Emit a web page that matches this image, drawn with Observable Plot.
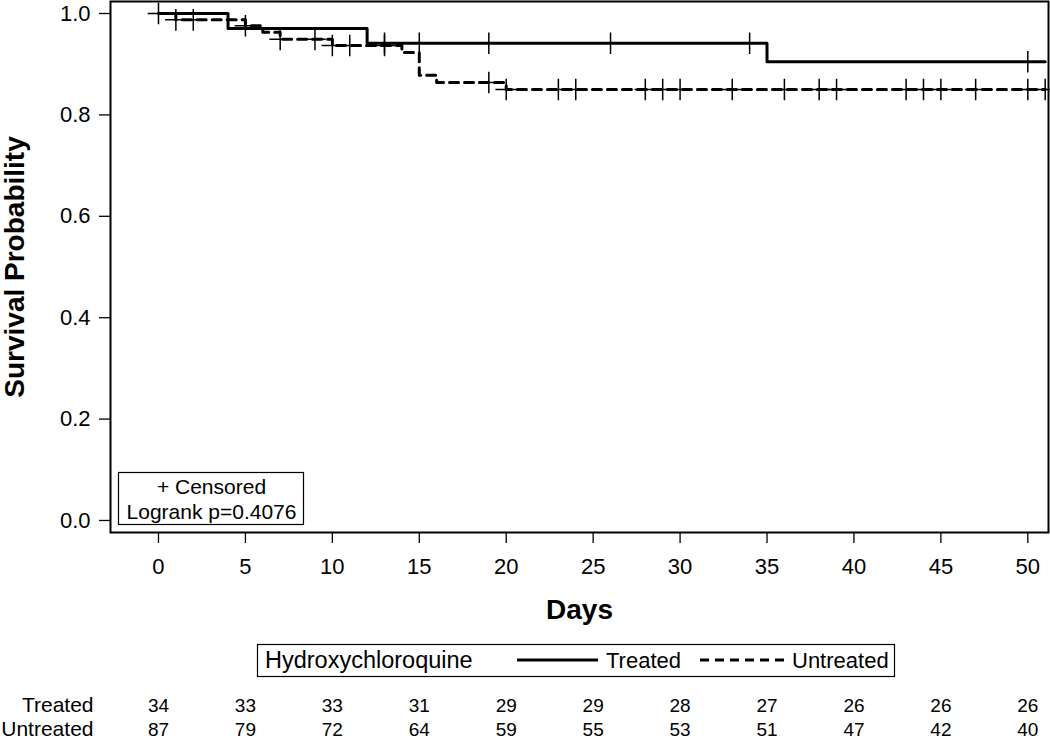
<!DOCTYPE html>
<html><head><meta charset="utf-8">
<script src="https://cdn.jsdelivr.net/npm/d3@7"></script>
<script src="https://cdn.jsdelivr.net/npm/@observablehq/plot@0.6"></script>
<style>
body{margin:0;background:#fff;}
#chart svg{display:block;}
</style>
</head><body><div id="chart"></div>
<script>
// ---- data ----
const groups = ["Treated", "Untreated"];
const treatedDays = [0, 4, 12, 35, 51];
const treatedSurv = [1.0, 0.9706, 0.9412, 0.905, 0.905];
const untreatedDays = [0, 1, 5, 6, 7, 10, 14, 15, 16, 20, 51];
const untreatedSurv = [1.0, 0.9875, 0.976, 0.963, 0.949, 0.937, 0.923, 0.878, 0.864, 0.850, 0.850];
const treatedCensorDays = [13, 15, 19, 26, 34, 50];
const untreatedCensorDays = [0, 1, 2, 5, 7, 9, 10, 11, 13, 19, 20, 23, 24, 28, 29, 30, 33, 36, 38, 39, 43, 44, 45, 47, 50, 51];
const riskDays = [0, 5, 10, 15, 20, 25, 30, 35, 40, 45, 50];
const treatedAtRisk = [34, 33, 33, 31, 29, 29, 28, 27, 26, 26, 26];
const untreatedAtRisk = [87, 79, 72, 64, 59, 55, 53, 51, 47, 42, 40];
const yTicks = [0, 0.2, 0.4, 0.6, 0.8, 1.0];
const xTicks = [0, 5, 10, 15, 20, 25, 30, 35, 40, 45, 50];
const legendTitle = "Hydroxychloroquine";
const insetLines = ["+ Censored", "Logrank p=0.4076"];

// ---- build tables ----
const toSteps = (days, surv) => days.map((d, i) => ({day: d, surv: surv[i]}));
const treated = toSteps(treatedDays, treatedSurv);
const untreated = toSteps(untreatedDays, untreatedSurv);
const survAt = (steps, day) => {
  let s = steps[0].surv;
  for (const p of steps) if (p.day <= day) s = p.surv;
  return s;
};
const censors = [
  ...treatedCensorDays.map(d => ({day: d, surv: survAt(treated, d)})),
  ...untreatedCensorDays.map(d => ({day: d, surv: survAt(untreated, d)}))
];
const riskRows = [
  ...riskDays.map((d, i) => ({day: d, n: treatedAtRisk[i], row: 0})),
  ...riskDays.map((d, i) => ({day: d, n: untreatedAtRisk[i], row: 1}))
];

const FONT = "'Liberation Sans', Arial, Helvetica, sans-serif";
const mL = 110, mR = 2, mT = 1, mB = 206, W = 1050, H = 738;
const frameBottom = H - mB; // 532
const row1 = 711, row2 = 735;

const chart = Plot.plot({
  width: W, height: H,
  marginLeft: mL, marginRight: mR, marginTop: mT, marginBottom: mB,
  x: {domain: [-2.76, 51.19]},
  y: {domain: [-0.0237, 1.0237]},
  style: {fontFamily: FONT, fontSize: "22px", color: "#000", background: "#fff", overflow: "visible"},
  marks: [
    Plot.axisX({ticks: xTicks, tickSize: 11, tickPadding: 15, fontSize: 22, label: null, strokeWidth: 1.3}),
    Plot.axisY({ticks: yTicks, tickSize: 11, tickPadding: 9, fontSize: 22, tickFormat: d3.format(".1f"), label: null, strokeWidth: 1.3}),
    Plot.line(treated, {x: "day", y: "surv", curve: "step-after", stroke: "#000", strokeWidth: 3}),
    Plot.line(untreated, {x: "day", y: "surv", curve: "step-after", stroke: "#000", strokeWidth: 3, strokeDasharray: "9,6"}),
    Plot.dot(censors, {x: "day", y: "surv", symbol: "plus", r: 7, stroke: "#000", strokeWidth: 1.5}),
    Plot.frame({stroke: "#000", strokeWidth: 2}),
    // axis titles
    Plot.text(["Days"], {frameAnchor: "bottom", dy: 618 - frameBottom, lineAnchor: "bottom", fontSize: 28, fontWeight: "bold", text: d => d}),
    Plot.text(["Survival Probability"], {frameAnchor: "left", dx: 15 - mL, rotate: -90, textAnchor: "middle", fontSize: 28, fontWeight: "bold", text: d => d}),
    // inset box text
    Plot.text(insetLines.slice(0, 1), {frameAnchor: "bottom-left", dx: 211 - mL, dy: 493 - frameBottom, text: d => d, fontSize: 21, textAnchor: "middle", lineAnchor: "bottom"}),
    Plot.text(insetLines.slice(1), {frameAnchor: "bottom-left", dx: 211 - mL, dy: 518 - frameBottom, text: d => d, fontSize: 21, textAnchor: "middle", lineAnchor: "bottom"}),
    // at-risk table
    Plot.text(riskRows.filter(d => d.row === 0), {x: "day", frameAnchor: "bottom", dy: row1 - frameBottom, text: d => String(d.n), fontSize: 19, textAnchor: "middle", lineAnchor: "bottom"}),
    Plot.text(riskRows.filter(d => d.row === 1), {x: "day", frameAnchor: "bottom", dy: row2 - frameBottom, text: d => String(d.n), fontSize: 19, textAnchor: "middle", lineAnchor: "bottom"}),
    Plot.text(groups.slice(0, 1), {frameAnchor: "bottom-left", dx: 93 - mL, dy: row1 - frameBottom, text: d => d, fontSize: 21, textAnchor: "end", lineAnchor: "bottom"}),
    Plot.text(groups.slice(1), {frameAnchor: "bottom-left", dx: 93 - mL, dy: row2 - frameBottom, text: d => d, fontSize: 21, textAnchor: "end", lineAnchor: "bottom"})
  ]
});

document.getElementById("chart").appendChild(chart);

const svg = d3.select(chart);
// inset box
svg.append("rect").attr("x", 118.5).attr("y", 472.5).attr("width", 185).attr("height", 52)
  .attr("fill", "none").attr("stroke", "#000").attr("stroke-width", 1.2);

// legend box
const lg = svg.append("g").attr("font-family", FONT).attr("font-size", 22).attr("fill", "#000").attr("text-anchor", "start");
lg.append("rect").attr("x", 257.5).attr("y", 644.5).attr("width", 637).attr("height", 32)
  .attr("fill", "none").attr("stroke", "#000").attr("stroke-width", 1.2);
lg.append("text").attr("x", 265).attr("y", 668).attr("font-size", 23.5).text(legendTitle);
lg.append("line").attr("x1", 517).attr("x2", 598).attr("y1", 660).attr("y2", 660)
  .attr("stroke", "#000").attr("stroke-width", 3);
lg.append("text").attr("x", 606).attr("y", 668).text(groups[0]);
lg.append("line").attr("x1", 700).attr("x2", 784).attr("y1", 660).attr("y2", 660)
  .attr("stroke", "#000").attr("stroke-width", 3).attr("stroke-dasharray", "9,6");
lg.append("text").attr("x", 792).attr("y", 668).text(groups[1]);
</script>
</body></html>
